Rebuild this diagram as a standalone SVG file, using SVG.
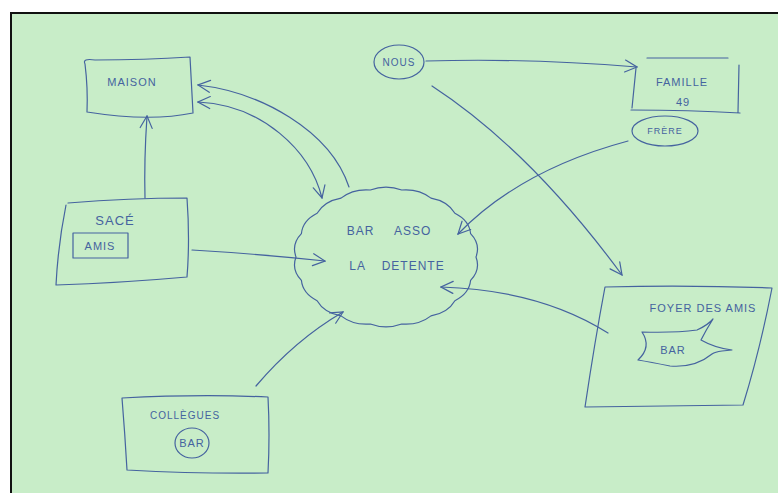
<svg xmlns="http://www.w3.org/2000/svg" width="778" height="493" viewBox="0 0 778 493">
<style>
.ink{fill:none;stroke:#45639f;stroke-width:1.2;stroke-linecap:round;stroke-linejoin:round}
.t{font-family:"Liberation Sans","DejaVu Sans",sans-serif;fill:#45639f;text-anchor:middle;letter-spacing:1px}
</style>
<defs>
<marker id="ah" viewBox="0 0 14 14" refX="13" refY="7" markerWidth="14" markerHeight="14" markerUnits="userSpaceOnUse" orient="auto-start-reverse">
<path d="M1,1 L13,7 L1,13" fill="none" stroke="#45639f" stroke-width="1.2" stroke-linecap="round"/>
</marker>
</defs>
<rect x="0" y="0" width="778" height="493" fill="#ffffff"/>
<rect x="11" y="13" width="767" height="480" fill="#c8edc8"/>
<path d="M11,493 L11,13 L778,13" fill="none" stroke="#111" stroke-width="2"/>

<g id="connectors">
<path class="ink" d="M145,198 Q144,160 147,116" marker-end="url(#ah)"/>
<path class="ink" d="M192,250 Q260,254 325,261" marker-end="url(#ah)"/>
<path class="ink" d="M256,386 Q295,340 343,312" marker-end="url(#ah)"/>
<path class="ink" d="M349,187 C330,130 260,92 198,85" marker-end="url(#ah)"/>
<path class="ink" d="M198,102 C262,105 310,150 322,198" marker-start="url(#ah)" marker-end="url(#ah)"/>
<path class="ink" d="M426,61 Q530,58 637,67" marker-end="url(#ah)"/>
<path class="ink" d="M432,86 Q530,150 622,275" marker-end="url(#ah)"/>
<path class="ink" d="M628,141 Q520,170 458,234" marker-end="url(#ah)"/>
<path class="ink" d="M608,333 Q540,290 441,287" marker-end="url(#ah)"/>
</g>

<g id="maison">
<path class="ink" d="M85,64 Q82,58 95,60 Q145,60 190,57 L193,113 Q150,122 87,112 Q88,88 85,64 Z"/>
<text class="t" x="132" y="86" font-size="11">MAISON</text>
</g>

<g id="sace">
<path class="ink" d="M68,203 Q130,198 187,198 Q190,240 187,277 Q120,283 56,285 Q58,245 66,205"/>
<text class="t" x="115" y="225" font-size="13">SACÉ</text>
<rect class="ink" x="73" y="233" width="55" height="25"/>
<text class="t" x="100" y="250" font-size="11">AMIS</text>
</g>

<g id="bar-asso">
<path class="ink" d="M476,257 Q480.8,269.7 470.6,280.3 Q469.4,293.4 454.9,300.7 Q447.9,312.8 431,315.9 Q418.9,325.4 401.7,324 Q386,329.8 370.3,324 Q353.1,325.4 341,315.9 Q324.1,312.8 317.1,300.7 Q302.6,293.4 301.4,280.3 Q291.2,269.7 296,257 Q291.2,244.3 301.4,233.7 Q302.6,220.6 317.1,213.3 Q324.1,201.2 341,198.1 Q353.1,188.6 370.3,190 Q386,184.2 401.7,190 Q418.9,188.6 431,198.1 Q447.9,201.2 454.9,213.3 Q469.4,220.6 470.6,233.7 Q480.8,244.3 476,257 Z"/>
<text class="t" x="389" y="235" font-size="12" word-spacing="16">BAR ASSO</text>
<text class="t" x="397" y="270" font-size="12" word-spacing="12">LA DETENTE</text>
</g>

<g id="nous">
<ellipse class="ink" cx="399" cy="62" rx="25" ry="17"/>
<text class="t" x="399" y="66" font-size="10">NOUS</text>
</g>

<g id="famille">
<path class="ink" d="M647,58 L728,58 M739,65 L738,112 M631,110 Q690,110 740,113 M636,68 L632,108"/>
<text class="t" x="682" y="86" font-size="11">FAMILLE</text>
<text class="t" x="683" y="106" font-size="11">49</text>
</g>

<g id="frere">
<ellipse class="ink" cx="665" cy="131" rx="33" ry="15"/>
<text class="t" x="665" y="134" font-size="9">FRÈRE</text>
</g>

<g id="foyer">
<path class="ink" d="M605,287 Q690,285 772,288 Q760,350 743,405 Q660,406 585,407 Q595,340 605,287 Z"/>
<text class="t" x="703" y="312" font-size="11">FOYER DES AMIS</text>
<path class="ink" d="M642,332 Q675,333 697,330 Q708,325 713,319 Q706,330 701,340 Q715,348 732,350 L722,351 Q715,352 712,354 Q695,368 670,366 Q650,362 638,360 Q652,347 642,332 Z"/>
<text class="t" x="673" y="354" font-size="11">BAR</text>
</g>

<g id="collegues">
<path class="ink" d="M122,398 Q200,394 268,397 Q270,435 268,473 Q200,474 127,470 Q125,435 122,398 Z"/>
<text class="t" x="185" y="419" font-size="10">COLLÈGUES</text>
<ellipse class="ink" cx="192" cy="443" rx="17" ry="15"/>
<text class="t" x="192" y="447" font-size="11">BAR</text>
</g>
</svg>
